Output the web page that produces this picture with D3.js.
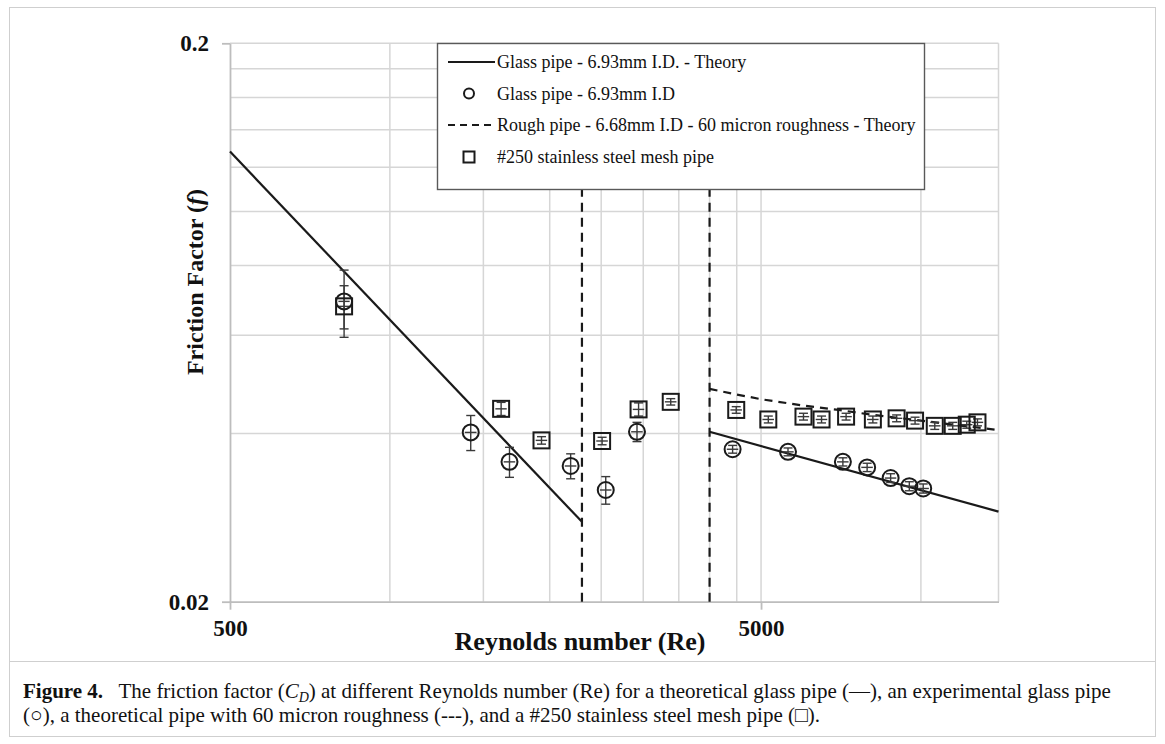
<!DOCTYPE html>
<html>
<head>
<meta charset="utf-8">
<script src="https://cdn.jsdelivr.net/npm/d3@7"></script>
<style>
  body { margin: 0; background: #fff; }
  svg text { font-family: "Liberation Serif", "Times New Roman", serif; fill: #111; }
</style>
</head>
<body>
<div id="chart"></div>
<script>
// glass pipe, experiment (circles)
const glassRe    = [820, 1420, 1680, 2190, 2550, 2920, 4420, 5620, 7130, 7920, 8770, 9510, 10100];
const glassF     = [0.0690, 0.0402, 0.0356, 0.0350, 0.0317, 0.0403, 0.0375, 0.0371, 0.0356, 0.0348, 0.0333, 0.0322, 0.0319];
const glassErr   = [0.0095, 0.0029, 0.0022, 0.0018, 0.0018, 0.0016, 0.0006, 0.0006, 0.0006, 0.0006, 0.0006, 0.0006, 0.0006];
const glassReErr = [20, 36, 42, 55, 64, 73, 110, 140, 178, 198, 219, 238, 252];

// #250 mesh pipe (squares)
const meshRe    = [820, 1620, 1930, 2510, 2940, 3380, 4490, 5160, 6010, 6500, 7230, 8120, 9000, 9750, 10620, 11480, 12200, 12780];
const meshF     = [0.0676, 0.0443, 0.0389, 0.0388, 0.0442, 0.0456, 0.0441, 0.0424, 0.0429, 0.0424, 0.0429, 0.0424, 0.0426, 0.0422, 0.0413, 0.0413, 0.0415, 0.0419];
const meshErr   = [0.0060, 0.0012, 0.0006, 0.0006, 0.0012, 0.0006, 0.0006, 0.0006, 0.0006, 0.0006, 0.0006, 0.0006, 0.0006, 0.0006, 0.0006, 0.0006, 0.0006, 0.0006];
const meshReErr = [21, 40, 48, 63, 73, 85, 112, 129, 150, 163, 181, 203, 225, 244, 266, 287, 305, 320];

// theory lines
const laminarRe = [500, 2300];
const laminarF  = [0.128, 0.0278];
const turbRe    = [4000, 14000];
const turbF     = [0.0403, 0.0290];
const roughRe   = [4000, 4500, 5000, 6000, 7000, 8000, 10000, 12000, 14000];
const roughF    = [0.0481, 0.0470, 0.0461, 0.0449, 0.0441, 0.0433, 0.0422, 0.0413, 0.0406];
const transitionRe = [2300, 4000];

const xTicks = [500, 5000];
const yTicks = [0.02, 0.2];
const xGrid  = [1000, 1500, 2000, 2500, 3000, 3500, 4000, 4500, 5000, 10000];
const yGrid  = [0.04, 0.06, 0.08, 0.10, 0.12, 0.14, 0.16, 0.18, 0.2];

const legendLabels = [
  "Glass pipe - 6.93mm I.D. - Theory",
  "Glass pipe - 6.93mm I.D",
  "Rough pipe - 6.68mm I.D - 60 micron roughness - Theory",
  "#250 stainless steel mesh pipe"
];

const W = 1165, H = 744;
const gridColor = "#d6d6d6", axisColor = "#bdbdbd", ink = "#1a1a1a";

let svg = d3.select('#chart')
            .append('svg')
            .attr('width', W)
            .attr('height', H);

// figure frame + caption separator
svg.append('rect')
   .attr('x', 9.5).attr('y', 7.5).attr('width', 1146).attr('height', 729)
   .attr('fill', 'none').attr('stroke', '#cfcfcf').attr('stroke-width', 1);
svg.append('line')
   .attr('x1', 9.5).attr('x2', 1155.5).attr('y1', 661.5).attr('y2', 661.5)
   .attr('stroke', '#cfcfcf').attr('stroke-width', 1);

let x = d3.scaleLog().domain([500, 14000]).range([230, 998.5]);
let y = d3.scaleLog().domain([0.02, 0.2]).range([601.7, 43.3]);

// gridlines
svg.append('g')
   .selectAll('line')
   .data(xGrid)
   .enter()
   .append('line')
   .attr('x1', d => x(d)).attr('x2', d => x(d))
   .attr('y1', y(0.02)).attr('y2', y(0.2))
   .attr('stroke', gridColor).attr('stroke-width', 1.5);

svg.append('g')
   .selectAll('line')
   .data(yGrid)
   .enter()
   .append('line')
   .attr('x1', x(500)).attr('x2', x(14000))
   .attr('y1', d => y(d)).attr('y2', d => y(d))
   .attr('stroke', gridColor).attr('stroke-width', 1.5);

// right border of plot area
svg.append('line')
   .attr('x1', x(14000)).attr('x2', x(14000))
   .attr('y1', y(0.02)).attr('y2', y(0.2))
   .attr('stroke', gridColor).attr('stroke-width', 1.5);

// axes
let yAxis = svg.append('g')
   .attr('transform', 'translate(' + x(500) + ',0)')
   .call(d3.axisLeft(y)
           .tickValues(yTicks)
           .tickFormat(d3.format('~g'))
           .tickSize(8)
           .tickSizeOuter(0)
           .tickPadding(13));

let xAxis = svg.append('g')
   .attr('transform', 'translate(0,' + y(0.02) + ')')
   .call(d3.axisBottom(x)
           .tickValues(xTicks)
           .tickFormat(d3.format('d'))
           .tickSize(8)
           .tickSizeOuter(0)
           .tickPadding(10));

[xAxis, yAxis].forEach(a => {
  a.select('.domain').attr('stroke', axisColor).attr('stroke-width', 1.8);
  a.selectAll('.tick line').attr('stroke', axisColor).attr('stroke-width', 1.8);
  a.selectAll('.tick text')
   .attr('fill', ink)
   .style('font-family', '"Liberation Serif", serif')
   .style('font-size', '23px')
   .style('font-weight', 'bold');
});

// axis titles
svg.append('text')
   .attr('x', 580).attr('y', 650)
   .attr('text-anchor', 'middle')
   .style('font-size', '26px').style('font-weight', 'bold')
   .text('Reynolds number (Re)');

let yTitle = svg.append('text')
   .attr('transform', 'translate(203,282) rotate(-90)')
   .attr('text-anchor', 'middle')
   .style('font-size', '24px').style('font-weight', 'bold');
yTitle.append('tspan').text('Friction Factor (');
yTitle.append('tspan').style('font-style', 'italic').text('f');
yTitle.append('tspan').text(')');

// theory lines
let line = d3.line().x(d => x(d[0])).y(d => y(d[1]));

svg.append('path')
   .datum(d3.zip(laminarRe, laminarF))
   .attr('d', line)
   .attr('fill', 'none').attr('stroke', ink).attr('stroke-width', 2.2);

svg.append('path')
   .datum(d3.zip(turbRe, turbF))
   .attr('d', line)
   .attr('fill', 'none').attr('stroke', ink).attr('stroke-width', 2.2);

svg.append('path')
   .datum(d3.zip(roughRe, roughF))
   .attr('d', line)
   .attr('fill', 'none').attr('stroke', ink).attr('stroke-width', 2.2)
   .attr('stroke-dasharray', '8,6');

svg.append('g')
   .selectAll('line')
   .data(transitionRe)
   .enter()
   .append('line')
   .attr('x1', d => x(d)).attr('x2', d => x(d))
   .attr('y1', y(0.02)).attr('y2', y(0.2))
   .attr('stroke', ink).attr('stroke-width', 2.2)
   .attr('stroke-dasharray', '9,6');

// error bars
function errorBars (re, f, fErr, reErr) {
  let g = svg.append('g').attr('stroke', '#3a3a3a').attr('stroke-width', 1.4);
  let pts = d3.zip(re, f, fErr, reErr);
  g.selectAll('.ey').data(pts).enter().append('line')
   .attr('x1', d => x(d[0])).attr('x2', d => x(d[0]))
   .attr('y1', d => y(d[1] - d[2])).attr('y2', d => y(d[1] + d[2]));
  g.selectAll('.ct').data(pts).enter().append('line')
   .attr('x1', d => x(d[0]) - 4.5).attr('x2', d => x(d[0]) + 4.5)
   .attr('y1', d => y(d[1] + d[2])).attr('y2', d => y(d[1] + d[2]));
  g.selectAll('.cb').data(pts).enter().append('line')
   .attr('x1', d => x(d[0]) - 4.5).attr('x2', d => x(d[0]) + 4.5)
   .attr('y1', d => y(d[1] - d[2])).attr('y2', d => y(d[1] - d[2]));
  g.selectAll('.ex').data(pts).enter().append('line')
   .attr('x1', d => x(d[0] - d[3])).attr('x2', d => x(d[0] + d[3]))
   .attr('y1', d => y(d[1])).attr('y2', d => y(d[1]));
}
errorBars(glassRe, glassF, glassErr, glassReErr);
errorBars(meshRe, meshF, meshErr, meshReErr);

// markers
svg.append('g')
   .selectAll('circle')
   .data(d3.zip(glassRe, glassF))
   .enter()
   .append('circle')
   .attr('cx', d => x(d[0])).attr('cy', d => y(d[1]))
   .attr('r', 8)
   .attr('fill', 'none').attr('stroke', ink).attr('stroke-width', 2);

svg.append('g')
   .selectAll('rect')
   .data(d3.zip(meshRe, meshF))
   .enter()
   .append('rect')
   .attr('x', d => x(d[0]) - 8).attr('y', d => y(d[1]) - 8)
   .attr('width', 16).attr('height', 16)
   .attr('fill', 'none').attr('stroke', ink).attr('stroke-width', 2);

// legend
let lg = svg.append('g');
lg.append('rect')
  .attr('x', 437.5).attr('y', 43.5).attr('width', 487).attr('height', 146)
  .attr('fill', '#fff').attr('stroke', '#595959').attr('stroke-width', 1.4);

const rowY = [62, 93.5, 125, 157];
lg.selectAll('text')
  .data(legendLabels)
  .enter()
  .append('text')
  .attr('x', 497).attr('y', (d, i) => rowY[i] + 6)
  .style('font-size', '18px')
  .text(d => d);

lg.append('line')
  .attr('x1', 448).attr('x2', 495).attr('y1', rowY[0]).attr('y2', rowY[0])
  .attr('stroke', ink).attr('stroke-width', 2);
lg.append('circle')
  .attr('cx', 469).attr('cy', rowY[1]).attr('r', 5)
  .attr('fill', 'none').attr('stroke', ink).attr('stroke-width', 2);
lg.append('line')
  .attr('x1', 448).attr('x2', 495).attr('y1', rowY[2]).attr('y2', rowY[2])
  .attr('stroke', ink).attr('stroke-width', 2).attr('stroke-dasharray', '7,5');
lg.append('rect')
  .attr('x', 463.5).attr('y', rowY[3] - 5.5).attr('width', 11).attr('height', 11)
  .attr('fill', 'none').attr('stroke', ink).attr('stroke-width', 2);

// caption
let cap1 = svg.append('text').attr('x', 23).attr('y', 698).style('font-size', '21px');
cap1.append('tspan').style('font-weight', 'bold').text('Figure 4.');
cap1.append('tspan').text('\u2002 The friction factor (');
cap1.append('tspan').style('font-style', 'italic').text('C');
cap1.append('tspan').style('font-style', 'italic').style('font-size', '14px').attr('dy', 4).text('D');
cap1.append('tspan').attr('dy', -4).text(') at different Reynolds number (Re) for a theoretical glass pipe (\u2014), an experimental glass pipe');

svg.append('text').attr('x', 23).attr('y', 722).style('font-size', '21px')
   .text('(\u25CB), a theoretical pipe with 60 micron roughness (---), and a #250 stainless steel mesh pipe (\u25A1).');
</script>
</body>
</html>
